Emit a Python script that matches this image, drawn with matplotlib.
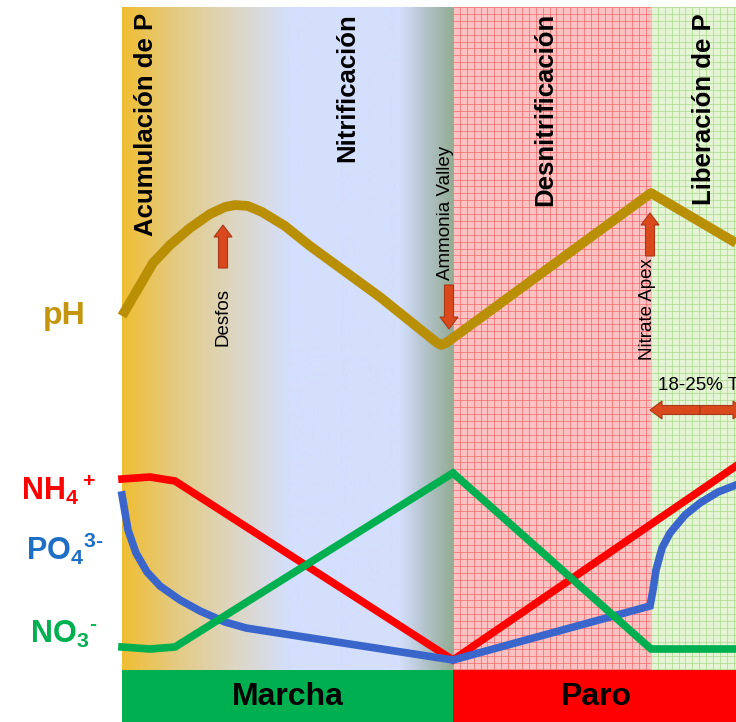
import numpy as np
import matplotlib
matplotlib.use("Agg")
import matplotlib.pyplot as plt
import matplotlib.patches as mpatches

plt.rcParams['font.family'] = ['Liberation Sans', 'DejaVu Sans']
plt.rcParams['mathtext.fontset'] = 'custom'
plt.rcParams['mathtext.rm'] = 'Liberation Sans:bold'
plt.rcParams['mathtext.bf'] = 'Liberation Sans:bold'
plt.rcParams['mathtext.it'] = 'Liberation Sans:bold'

# ---- data (x = time position across the cycle, y = relative level; both) ----
ph_x = [122, 153, 170, 190, 210, 225, 235, 248, 262, 285, 310, 380, 436, 441, 446, 453, 651, 736]
ph_y = [316, 263, 245, 228, 214, 207, 205, 206, 212, 226, 246, 297, 342, 345, 343, 338, 193, 243]

nh4_x = [122, 150, 175, 453, 736]
nh4_y = [479, 477, 481, 660, 466]

no3_x = [122, 150, 175, 453, 651, 736]
no3_y = [647, 649, 647, 473, 649, 649]

po4_x = [122, 128, 136, 147, 160, 180, 200, 225, 246, 453, 650, 653, 656, 662, 670, 685, 700, 718, 736]
po4_y = [495, 530, 553, 572, 586, 600, 611, 622, 628, 660, 606, 590, 570, 548, 533, 515, 503, 492, 485]

phases = ["Acumulación de P", "Nitrificación", "Desnitrificación", "Liberación de P"]
phase_x = [146, 347, 545, 704]

modes = ["Marcha", "Paro"]
mode_edges = [122, 453, 736]
mode_colors = ["#00B050", "#FF0000"]

# background gradient stops for the aerated (Marcha) part
grad_x = [122, 175, 240, 290, 400, 425, 453]
grad_rgb = [(240, 190, 50), (228, 202, 130), (220, 215, 200), (212, 223, 252),
            (212, 223, 252), (180, 196, 205), (148, 172, 148)]

TOP, BOT = 7, 670

fig = plt.figure(figsize=(7.36, 7.22), dpi=100)
ax = fig.add_axes([0, 0, 1, 1])
ax.set_xlim(0, 736)
ax.set_ylim(722, 0)
ax.axis('off')

# gradient background
xs = np.arange(mode_edges[0], mode_edges[1] + 1)
cols = np.stack([np.interp(xs, grad_x, [c[i] for c in grad_rgb]) for i in range(3)], axis=-1) / 255.0
ax.imshow(cols[None, :, :], extent=[mode_edges[0], mode_edges[1], BOT, TOP], aspect='auto', zorder=0)

# anoxic grid regions
ax.add_patch(mpatches.Rectangle((453, TOP), 651 - 453, BOT - TOP, fc='#FFC2C2', ec='none', zorder=0))
ax.add_patch(mpatches.Rectangle((651, TOP), 736 - 651, BOT - TOP, fc='#E4F4D4', ec='none', zorder=0))
step = 6.9
gx = np.arange(453, 651, step)
gy = np.arange(TOP, BOT, step)
ax.vlines(gx, TOP, BOT, color='#F06060', lw=0.6, alpha=0.75, zorder=1)
ax.hlines(gy, 453, 651, color='#F06060', lw=0.6, alpha=0.75, zorder=1)
gx2 = np.arange(651, 736, step)
ax.vlines(gx2, TOP, BOT, color='#A8D888', lw=0.6, alpha=0.8, zorder=1)
ax.hlines(gy, 651, 736, color='#A8D888', lw=0.6, alpha=0.8, zorder=1)

# mode band
for i, m in enumerate(modes):
    ax.add_patch(mpatches.Rectangle((mode_edges[i], BOT), mode_edges[i + 1] - mode_edges[i], 722 - BOT,
                                    fc=mode_colors[i], ec='none', zorder=2))
ax.text(288, 697, modes[0], fontsize=23, fontweight='bold', ha='center', va='center', zorder=3)
ax.text(596, 697, modes[1], fontsize=23, fontweight='bold', ha='center', va='center', zorder=3)

# curves
ax.plot(ph_x, ph_y, color='#B88F05', lw=7, solid_joinstyle='round', solid_capstyle='butt', zorder=4)
ax.plot(nh4_x, nh4_y, color='#FF0000', lw=5.5, solid_joinstyle='miter', zorder=4)
ax.plot(po4_x, po4_y, color='#3A66CC', lw=5.5, solid_joinstyle='miter', zorder=4)
ax.plot(no3_x, no3_y, color='#00B050', lw=5.5, solid_joinstyle='miter', zorder=5)

# phase headers
for lab, x in zip(phases, phase_x):
    ax.text(x, 13, lab, rotation=90, fontsize=18.5, fontweight='bold', ha='center', va='top', zorder=6)

# left labels
ax.text(64, 316, 'pH', color='#C4960F', fontsize=23, fontweight='bold', ha='center', va='center')
ax.text(58, 490, r'$\mathbf{NH_4{}^+}$', color='#FF0000', fontsize=22, ha='center', va='center')
ax.text(65, 549, r'$\mathbf{PO_4{}^{3\text{-}}}$', color='#1F6FC5', fontsize=22, ha='center', va='center')
ax.text(64, 634, r'$\mathbf{NO_3{}^\text{-}}$', color='#00B050', fontsize=22, ha='center', va='center')

# event arrows
arrow_kw = dict(width=9, head_width=18, head_length=12, length_includes_head=True,
                fc='#D9491C', ec='#A8381A', lw=0.8, zorder=7)
ax.add_patch(mpatches.FancyArrow(223, 268, 0, -43, **arrow_kw))
ax.add_patch(mpatches.FancyArrow(449, 285, 0, 44, **arrow_kw))
ax.add_patch(mpatches.FancyArrow(650, 256, 0, -43, **arrow_kw))
ax.add_patch(mpatches.FancyArrow(700, 410, -50, 0, **arrow_kw))
ax.add_patch(mpatches.FancyArrow(700, 410, 45, 0, **arrow_kw))

ax.text(223, 346, 'Desfos', rotation=90, fontsize=13.5, ha='center', va='bottom', zorder=7)
ax.text(446, 280, 'Ammonia Valley', rotation=90, fontsize=13.5, ha='center', va='bottom', zorder=7)
ax.text(648, 360, 'Nitrate Apex', rotation=90, fontsize=13.5, ha='center', va='bottom', zorder=7)
ax.text(658, 386, '18-25% T', fontsize=13.5, ha='left', va='center', zorder=7)

fig.savefig('out.png', dpi=100)
